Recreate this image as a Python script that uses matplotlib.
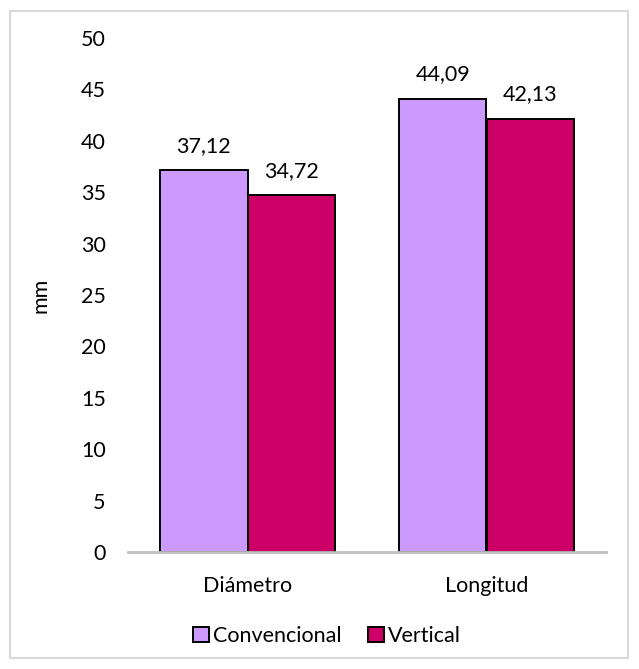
import numpy as np
import matplotlib.pyplot as plt
from matplotlib.patches import Rectangle

categories = ['Diámetro', 'Longitud']
convencional = [37.12, 44.09]
vertical = [34.72, 42.13]
series_names = ['Convencional', 'Vertical']
yticks = [0, 5, 10, 15, 20, 25, 30, 35, 40, 45, 50]

plt.rcParams['font.family'] = ['Lato', 'DejaVu Sans']
fs = 15.5

fig = plt.figure(figsize=(6.39, 6.69), dpi=100)
# outer chart border
fig.patches.append(Rectangle((10/639, 11/669), 618/639, 647/669, transform=fig.transFigure,
                             fill=False, edgecolor='#d9d9d9', linewidth=1.5))

ax = fig.add_axes([128/639, (669-552)/669, 478/639, 514/669])
x = np.arange(len(categories))
w = 0.366
b1 = ax.bar(x - w/2, convencional, w, color='#CC99FF', edgecolor='black', linewidth=1.4, label=series_names[0])
b2 = ax.bar(x + w/2, vertical, w, color='#CC0066', edgecolor='black', linewidth=1.4, label=series_names[1])

for bars, vals in [(b1, convencional), (b2, vertical)]:
    for r, v in zip(bars, vals):
        ax.text(r.get_x() + r.get_width()/2, v + 1.4, f'{v:.2f}'.replace('.', ','),
                ha='center', va='bottom', fontsize=fs)

ax.set_xlim(-0.5, 1.5)
ax.set_ylim(0, 50)
ax.set_yticks(yticks)
ax.set_xticks(x)
ax.set_xticklabels(categories, fontsize=fs)
ax.tick_params(axis='y', length=0, pad=16, labelsize=fs)
ax.tick_params(axis='x', length=0, pad=17)
for s in ['top', 'right', 'left']:
    ax.spines[s].set_visible(False)
ax.spines['bottom'].set_color('#bfbfbf')
ax.spines['bottom'].set_linewidth(2)
ax.set_ylabel('mm', fontsize=fs, labelpad=22)

fig.legend(handles=[b1, b2], loc='center', bbox_to_anchor=(327/639, (669-636)/669), ncol=2,
           frameon=False, fontsize=fs, handlelength=0.75, handleheight=0.75, handletextpad=0.2,
           columnspacing=1.2)

fig.savefig('out.png', dpi=100)
